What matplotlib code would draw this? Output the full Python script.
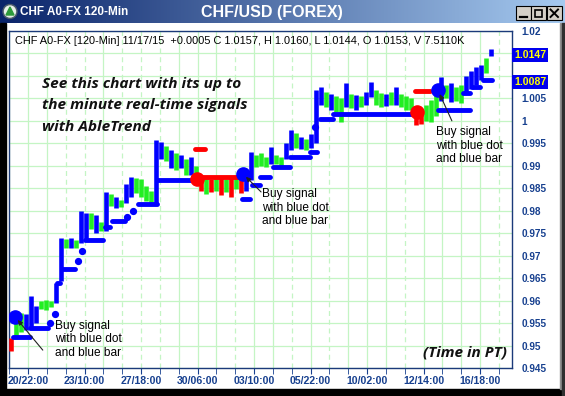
import numpy as np
import matplotlib
matplotlib.use('Agg')
import matplotlib.pyplot as plt
from matplotlib.patches import Rectangle, Circle, Polygon
from matplotlib.colors import LinearSegmentedColormap

# ---- price bars (120-min) ----
bar_high = [0.9516, 0.9555, 0.9573, 0.9570, 0.9611, 0.9588, 0.9600, 0.9602, 0.9598, 0.9640,
            0.9740, 0.9738, 0.9740, 0.9735, 0.9800, 0.9795, 0.9794, 0.9790, 0.9775, 0.9841,
            0.9838, 0.9830, 0.9825, 0.9860, 0.9874, 0.9872, 0.9870, 0.9855, 0.9845, 0.9957,
            0.9952, 0.9945, 0.9935, 0.9928, 0.9925, 0.9915, 0.9920, 0.9900, 0.9880, 0.9872,
            0.9870, 0.9875, 0.9872, 0.9870, 0.9875, 0.9878, 0.9876, 0.9890, 0.9930, 0.9925,
            0.9928, 0.9920, 0.9941, 0.9925, 0.9920, 0.9950, 0.9979, 0.9972, 0.9965, 0.9960,
            0.9970, 1.0068, 1.0075, 1.0065, 1.0060, 1.0055, 1.0050, 1.0084, 1.0060, 1.0058,
            1.0055, 1.0065, 1.0086, 1.0068, 1.0062, 1.0060, 1.0065, 1.0075, 1.0060, 1.0055,
            1.0050, 1.0030, 1.0025, 1.0035, 1.0046, 1.0060, 1.0097, 1.0080, 1.0085, 1.0075,
            1.0080, 1.0100, 1.0110, 1.0120, 1.0125, 1.0140, 1.0160]
bar_low = [0.9487, 0.9515, 0.9530, 0.9535, 0.9539, 0.9550, 0.9582, 0.9580, 0.9585, 0.9595,
           0.9644, 0.9716, 0.9718, 0.9716, 0.9729, 0.9735, 0.9760, 0.9751, 0.9755, 0.9756,
           0.9810, 0.9805, 0.9808, 0.9818, 0.9830, 0.9840, 0.9830, 0.9822, 0.9818, 0.9818,
           0.9915, 0.9910, 0.9895, 0.9890, 0.9895, 0.9880, 0.9879, 0.9870, 0.9845, 0.9838,
           0.9842, 0.9845, 0.9835, 0.9842, 0.9830, 0.9848, 0.9840, 0.9845, 0.9868, 0.9897,
           0.9900, 0.9898, 0.9905, 0.9905, 0.9900, 0.9915, 0.9935, 0.9940, 0.9938, 0.9935,
           0.9940, 0.9950, 1.0035, 1.0030, 1.0025, 1.0020, 0.9997, 1.0030, 1.0028, 1.0025,
           1.0030, 1.0035, 1.0053, 1.0035, 1.0030, 1.0032, 1.0035, 1.0035, 1.0030, 1.0025,
           1.0025, 0.9990, 0.9992, 1.0000, 0.9997, 1.0010, 1.0045, 1.0050, 1.0042, 1.0045,
           1.0040, 1.0060, 1.0070, 1.0080, 1.0090, 1.0106, 1.0144]
bar_trend = ("rggbbbgggbbgbgbbgbgbgbgbbggggbbgbgbgbgrgrgrgrgrbbgggbggbbgbgbbbgbggbgbgbbggbgbggg"
             "rrgggbgbggbbbbgb")

# ---- AbleTrend stop levels (start bar, end bar, level, colour) ----
stop_start = [0.5, 3.9, 7.9, 8.9, 9.3, 10.3, 13.5, 14.3, 14.9, 18.9, 20.3, 23.3, 24.5, 25.5,
              29.3, 36.9, 38.5, 46.3, 48.3, 49.9, 52.5, 55.9, 59.9, 60.9, 61.9, 64.5, 80.9,
              85.5, 90.5, 92.3, 94.5]
stop_end = [3.9, 7.5, 7.9, 8.9, 9.9, 12.9, 13.5, 14.3, 18.5, 19.9, 22.9, 23.3, 24.5, 29.3,
            36.3, 38.9, 45.9, 47.9, 49.9, 51.9, 55.9, 59.9, 61.3, 60.9, 64.5, 80.5, 83.9,
            91.9, 91.9, 93.9, 96.3]
stop_level = [0.9518, 0.9540, 0.9551, 0.9571, 0.9640, 0.9671, 0.9689, 0.9710, 0.9735, 0.9763,
              0.9778, 0.9787, 0.9800, 0.9815, 0.9869, 0.9938, 0.9875, 0.9826, 0.9858, 0.9875,
              0.9897, 0.9919, 0.9930, 0.9986, 1.0005, 1.0016, 1.0067, 1.0024, 1.0061, 1.0076,
              1.0091]
stop_trend = "bbbbbbbbbbbbbbbrrbbbbbbbbbrbbbb"

# ---- buy / sell signal dots ----
sig_bar = [0.9, 37.3, 46.5, 81.3, 85.5]
sig_price = [0.9564, 0.9870, 0.9882, 1.0020, 1.0068]
sig_trend = "brbrb"

tick_pos = [3.5, 14.8, 26.1, 37.4, 48.7, 60.0, 71.3, 82.6, 93.9]
tick_labels = ['20/22:00', '23/10:00', '27/18:00', '30/06:00', '03/10:00',
               '05/22:00', '10/02:00', '12/14:00', '16/18:00']
y_ticks = np.arange(0.945, 1.0201, 0.005)
last_prices = [1.0147, 1.0087]

COL = {'b': '#0000ff', 'g': '#22ee22', 'r': '#ff0000'}
NAVY = '#17408f'
GRID = '#c4f5c4'

W, H = 565, 396
fig = plt.figure(figsize=(W / 100, H / 100), dpi=100)
fig.patch.set_facecolor('white')

# window chrome drawn in pixel coordinates
bg = fig.add_axes([0, 0, 1, 1])
bg.axis('off')
cmap = LinearSegmentedColormap.from_list('tb', ['#0a246a', '#a6caf0'])
bg.imshow(np.linspace(0, 1, 256)[None, :], extent=[0, W, 23, 0], aspect='auto', cmap=cmap)
bg.add_patch(Rectangle((0, 23), 6, H - 23, color='black'))
bg.add_patch(Rectangle((0, 389), W, H - 389, color='black'))
bg.add_patch(Rectangle((560, 23), 2, 366, color='#909090'))
bg.add_patch(Rectangle((562, 23), 3, H - 23, color='#303030'))
# little app icon
bg.add_patch(Circle((10, 11.5), 7, color='#4d5d6d'))
bg.add_patch(Circle((10, 11.5), 5.5, color='#e8f0e8'))
bg.add_patch(Polygon([(6, 15), (14, 15), (10, 7)], color='#2d9a3a'))
bg.text(20, 12, 'CHF A0-FX 120-Min', color='white', fontsize=8.5, fontweight='bold',
        family='Liberation Sans', va='center', ha='left')
bg.text(272, 12, 'CHF/USD (FOREX)', color='white', fontsize=11.5, fontweight='bold',
        family='Liberation Sans', va='center', ha='center')
for x0 in [516, 531, 547]:
    bg.add_patch(Rectangle((x0, 6), 14.5, 14, facecolor='#d4d0c8', edgecolor='black', lw=0.8))
bg.plot([519.5, 526.5], [17, 17], color='black', lw=1.6)
bg.add_patch(Rectangle((534.5, 9.5), 7.5, 7.5, fill=False, edgecolor='black', lw=1.2))
bg.plot([550.5, 558], [9.5, 17], color='black', lw=1.4)
bg.plot([550.5, 558], [17, 9.5], color='black', lw=1.4)
bg.set_xlim(0, W)
bg.set_ylim(H, 0)

# chart
ax = fig.add_axes([9 / W, 1 - 368 / H, (512 - 9) / W, (368 - 31) / H])
ax.set_xlim(-0.3, 100.3)
ax.set_ylim(0.945, 1.02)
for s in ax.spines.values():
    s.set_color('#1b3a7a')
    s.set_linewidth(1.0)

# grid
ax.set_yticks(y_ticks)
ax.grid(axis='y', color=GRID, lw=0.9, zorder=0)
step = (tick_pos[1] - tick_pos[0]) / 3
grid_x = tick_pos[0] + step * np.arange(-1, 26)
grid_style = "sssddsdddsssdssdsdsssdssssd"
for gx, st in zip(grid_x, grid_style):
    ax.axvline(gx, color=GRID, lw=0.9, ls='-' if st == 's' else (0, (4, 3)), zorder=0)
ax.set_xticks(grid_x, minor=True)
ax.set_xticks(tick_pos)
ax.set_xticklabels(tick_labels)
ax.tick_params(axis='x', which='both', length=4, color=NAVY, pad=1.5,
               labelsize=7.6, labelcolor=NAVY)
for t in ax.get_xticklabels():
    t.set_fontweight('bold')
    t.set_family('Liberation Sans')

# 1.015 and 1.01 sit behind the last-price boxes, so they are left blank
hidden = [1.015, 1.01]
ax.yaxis.tick_right()
ax.set_yticklabels(['' if round(v, 3) in hidden else f'{round(v, 3):g}' for v in y_ticks])
ax.tick_params(axis='y', length=0, pad=7, labelsize=7.2, labelcolor=NAVY)
for t in ax.get_yticklabels():
    t.set_fontweight('bold')
    t.set_family('Liberation Sans')
    t.set_ha('left')

# price bars
idx = np.arange(len(bar_high))
ax.vlines(idx, bar_low, bar_high, colors=[COL[c] for c in bar_trend], lw=3.3, zorder=3)

# stop lines
for s, e, lv, c in zip(stop_start, stop_end, stop_level, stop_trend):
    if e - s < 0.5:
        ax.plot([s], [lv], 'o', ms=4.2, color=COL[c], zorder=4)
    else:
        ax.plot([s, e], [lv, lv], color=COL[c], lw=3.5, solid_capstyle='round', zorder=4)

# signal dots
for xb, p, c in zip(sig_bar, sig_price, sig_trend):
    ax.plot(xb, p, 'o', ms=9.5, color=COL[c], zorder=5)

# last price boxes
for p in last_prices:
    ax.text(1.004, p, f'{p:.4f}', transform=ax.get_yaxis_transform(), ha='left', va='center',
            color='#ffff00', fontsize=7.6, fontweight='bold', family='Liberation Sans',
            bbox=dict(boxstyle='square,pad=0.18', fc='#0000ee', ec='none'),
            clip_on=False, zorder=10)

# header line inside the chart
ax.text(0.011, 0.969, 'CHF A0-FX [120-Min] 11/17/15  +0.0005 C 1.0157, H 1.0160, L 1.0144, '
        'O 1.0153, V 7.5110K', transform=ax.transAxes, fontsize=7.9, family='Liberation Sans',
        va='center', ha='left', color='black', zorder=6)

ax.text(0.066, 0.864, 'See this chart with its up to\nthe minute real-time signals\nwith AbleTrend',
        transform=ax.transAxes, fontsize=11.1, fontweight='bold', style='italic',
        family='Open Sans', va='top', ha='left', linespacing=1.68, color='#111111', zorder=6)
ax.text(0.99, 0.045, '(Time in PT)', transform=ax.transAxes, fontsize=11, fontweight='bold',
        style='italic', family='Open Sans', va='center', ha='right', color='#111111', zorder=6)

# buy signal callouts (arrow tail / text offsets in points)
callouts = [(0, (20, -24), (29, -2)), (2, (13, -13), (14, -10)), (4, (10, -22), (-1.5, -25.5))]
for k, tail, txt in callouts:
    xy = (sig_bar[k], sig_price[k])
    ax.annotate('', xy=xy, xytext=tail, textcoords='offset points',
                arrowprops=dict(arrowstyle='-|>', color='#222222', lw=0.8,
                                mutation_scale=7, shrinkA=0, shrinkB=3), zorder=6)
    ax.annotate('Buy signal\nwith blue dot\nand blue bar', xy=xy, xytext=txt,
                textcoords='offset points', fontsize=8.6, family='Liberation Sans',
                va='top', ha='left', linespacing=1.2, color='black', zorder=6)

fig.savefig('out.png', dpi=100)
